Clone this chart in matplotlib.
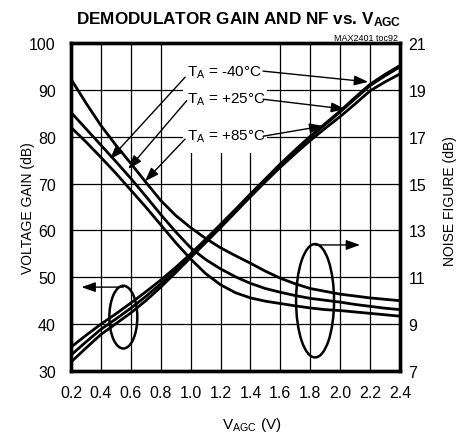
import matplotlib
matplotlib.use("Agg")
import matplotlib.pyplot as plt
from matplotlib.patches import Ellipse, Rectangle

plt.rcParams['font.family'] = ['Liberation Sans Narrow', 'Liberation Sans', 'DejaVu Sans']
plt.rcParams['mathtext.fontset'] = 'custom'
plt.rcParams['mathtext.rm'] = 'Liberation Sans'
plt.rcParams['mathtext.bf'] = 'Liberation Sans:bold'
plt.rcParams['mathtext.it'] = 'Liberation Sans:italic'

# AGC control voltage (V)
vagc = [0.2, 0.3, 0.4, 0.5, 0.6, 0.7, 0.8, 0.9, 1.0, 1.1, 1.2, 1.3,
        1.4, 1.5, 1.6, 1.7, 1.8, 1.9, 2.0, 2.1, 2.2, 2.3, 2.4]

# voltage gain (dB), left axis
gain_m40 = [35.1, 37.6, 40.0, 42.2, 44.5, 46.9, 49.4, 52.1, 55.0, 58.1, 61.3, 64.5,
            67.8, 71.0, 74.2, 77.2, 80.1, 82.8, 85.5, 88.4, 91.2, 93.3, 95.2]
gain_p25 = [33.4, 36.2, 38.9, 41.1, 43.4, 45.9, 48.6, 51.5, 54.6, 57.8, 61.0, 64.3,
            67.6, 70.8, 74.0, 77.0, 79.9, 82.6, 85.3, 88.1, 90.9, 93.0, 94.9]
gain_p85 = [31.9, 34.9, 37.8, 40.1, 42.4, 45.0, 47.9, 51.0, 54.2, 57.4, 60.6, 63.9,
            67.2, 70.4, 73.5, 76.4, 79.2, 81.8, 84.3, 87.0, 89.8, 91.7, 93.4]

# noise figure (dB), right axis
nf_p85 = [19.46, 18.44, 17.48, 16.64, 15.86, 15.06, 14.28, 13.64, 13.12, 12.66, 12.26, 11.92,
          11.60, 11.26, 10.96, 10.72, 10.52, 10.40, 10.28, 10.20, 10.12, 10.06, 10.00]
nf_p25 = [18.04, 17.34, 16.64, 15.94, 15.22, 14.46, 13.68, 12.94, 12.26, 11.76, 11.36, 11.02,
          10.74, 10.52, 10.36, 10.22, 10.10, 10.02, 9.94, 9.84, 9.76, 9.68, 9.62]
nf_m40 = [17.40, 16.78, 16.12, 15.44, 14.72, 14.00, 13.24, 12.48, 11.78, 11.16, 10.68, 10.34,
          10.12, 9.98, 9.88, 9.78, 9.69, 9.62, 9.58, 9.52, 9.46, 9.40, 9.34]

x_ticks = [0.2, 0.4, 0.6, 0.8, 1.0, 1.2, 1.4, 1.6, 1.8, 2.0, 2.2, 2.4]
gain_ticks = [30, 40, 50, 60, 70, 80, 90, 100]
nf_ticks = [7, 9, 11, 13, 15, 17, 19, 21]

fig = plt.figure(figsize=(4.66, 4.35), dpi=100)
ax = fig.add_axes([71 / 466, 1 - 372 / 435, 329 / 466, 328 / 435])
ax2 = ax.twinx()

lw = 2.0
for g in (gain_m40, gain_p25, gain_p85):
    ax.plot(vagc, g, color='black', lw=lw, zorder=3)
for n in (nf_p85, nf_p25, nf_m40):
    ax2.plot(vagc, n, color='black', lw=lw, zorder=3)

ax.set_xlim(0.2, 2.4)
ax.set_ylim(30, 100)
ax2.set_ylim(7, 21)
ax.set_xticks(x_ticks)
ax.set_xticklabels([f"{v:.1f}" for v in x_ticks])
ax.set_yticks(gain_ticks)
ax2.set_yticks(nf_ticks)

ax.grid(True, color='black', lw=0.9, zorder=0)
ax.set_axisbelow(True)
ax.tick_params(axis='both', length=0, labelsize=11.5)
ax.tick_params(axis='x', pad=10)
ax.tick_params(axis='y', pad=11)
ax2.tick_params(axis='y', length=0, labelsize=11.5, pad=6)
for a in (ax, ax2):
    for s in a.spines.values():
        s.set_linewidth(2.4)

ax.set_ylabel("VOLTAGE GAIN (dB)", fontsize=10)
ax.yaxis.set_label_coords(-0.11, 0.5)
ax2.set_ylabel("NOISE FIGURE (dB)", fontsize=10)
ax2.yaxis.set_label_coords(1.13, 0.52)
ax.set_xlabel(r"V$_{\mathrm{AGC}}$ (V)", fontsize=11)
ax.xaxis.set_label_coords(0.549, -0.135)

fig.text(0.512, 0.943, r"DEMODULATOR GAIN AND NF vs. V$_{\mathbf{AGC}}$",
         ha='center', va='baseline', fontsize=12.3, fontweight='bold')
ax.text(0.994, 1.009, "MAX2401 toc92", transform=ax.transAxes,
        ha='right', va='baseline', fontsize=6.5)

# white block behind the temperature labels
ax.add_patch(Rectangle((0.95, 76.5), 0.56, 23.5, facecolor='white',
                       edgecolor='none', zorder=1))

labels = ["T$_{\\mathrm{A}}$ = -40°C", "T$_{\\mathrm{A}}$ = +25°C", "T$_{\\mathrm{A}}$ = +85°C"]
label_y = [93.8, 88.0, 80.2]
left_start = [(0.963, 92.7), (0.974, 87.7), (0.963, 79.5)]
left_tip = [(0.461, 75.2), (0.583, 73.1), (0.695, 70.5)]
right_start = [(1.484, 94.0), (1.484, 88.0), (1.484, 80.1)]
right_tip = [(2.187, 91.7), (2.033, 85.9), (1.888, 82.3)]

arrow = dict(arrowstyle='-|>,head_length=0.7,head_width=0.25', color='black',
             lw=1.0, shrinkA=0, shrinkB=0, mutation_scale=12)
for lab, ly, ls, lt, rs, rt in zip(labels, label_y, left_start, left_tip, right_start, right_tip):
    ax.text(0.975, ly, lab, fontsize=11, ha='left', va='center', zorder=4)
    ax.annotate('', xy=lt, xytext=ls, arrowprops=arrow, zorder=4)
    ax.annotate('', xy=rt, xytext=rs, arrowprops=arrow, zorder=4)

# ellipses marking which axis each curve family uses
ax.add_patch(Ellipse((0.55, 41.5), 0.187, 13.4, fill=False, lw=1.8,
                     edgecolor='black', zorder=4))
ax.annotate('', xy=(0.27, 47.9), xytext=(0.55, 47.9), arrowprops=arrow, zorder=4)
ax.add_patch(Ellipse((1.832, 45.0), 0.254, 24.2, fill=False, lw=1.8,
                     edgecolor='black', zorder=4))
ax.annotate('', xy=(2.133, 56.9), xytext=(1.832, 56.9), arrowprops=arrow, zorder=4)

fig.savefig("out.png", dpi=100)
